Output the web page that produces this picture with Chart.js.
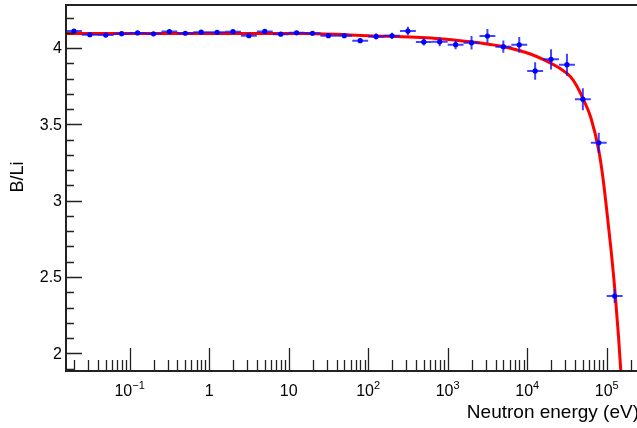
<!DOCTYPE html>
<html>
<head>
<meta charset="utf-8">
<script src="https://cdn.jsdelivr.net/npm/chart.js@4"></script>
<style>
html, body { margin: 0; padding: 0; background: #fff; overflow: hidden; }
#wrap { width: 680px; height: 428px; }
</style>
</head>
<body>
<div id="wrap"><canvas id="chart" width="680" height="428"></canvas></div>
<script>
// measured B/Li ratio, 5 log bins per decade
const binCenters = [0.01995, 0.03162, 0.05012, 0.07943, 0.1259, 0.1995, 0.3162, 0.5012, 0.7943,
    1.259, 1.995, 3.162, 5.012, 7.943, 12.59, 19.95, 31.62, 50.12, 79.43, 125.9, 199.5, 316.2,
    501.2, 794.3, 1259, 1995, 3162, 5012, 7943, 12589, 19953, 31623, 50119, 79433, 125893];
const binEdges = [0.01585, 0.02512, 0.03981, 0.0631, 0.1, 0.1585, 0.2512, 0.3981, 0.631, 1,
    1.585, 2.512, 3.981, 6.31, 10, 15.85, 25.12, 39.81, 63.1, 100, 158.5, 251.2, 398.1, 631,
    1000, 1585, 2512, 3981, 6310, 10000, 15850, 25120, 39810, 63100, 100000, 158500];
const ratio = [4.111, 4.087, 4.085, 4.094, 4.099, 4.093, 4.108, 4.097, 4.104, 4.103, 4.107,
    4.081, 4.109, 4.091, 4.100, 4.097, 4.081, 4.081, 4.048, 4.076, 4.080, 4.111, 4.040, 4.041,
    4.022, 4.035, 4.079, 4.009, 4.021, 3.850, 3.926, 3.891, 3.665, 3.379, 2.375];
const ratioErr = [0.008, 0.008, 0.008, 0.008, 0.008, 0.008, 0.008, 0.008, 0.008, 0.008, 0.008,
    0.008, 0.008, 0.009, 0.009, 0.009, 0.012, 0.012, 0.013, 0.02, 0.02, 0.028, 0.024, 0.03,
    0.03, 0.044, 0.046, 0.04, 0.052, 0.057, 0.066, 0.072, 0.072, 0.066, 0.045];

// fitted curve
const fitEnergy = [0.0158, 1, 15.85, 100, 708, 1905, 4571, 8128, 10965, 16600, 25700, 34670,
    41690, 50800, 63100, 79400, 89130, 100000, 112200, 125900, 141300, 158500];
const fitRatio = [4.095, 4.096, 4.095, 4.081, 4.063, 4.041, 4.013, 3.982, 3.961, 3.921, 3.867,
    3.815, 3.755, 3.664, 3.545, 3.33, 3.16, 2.94, 2.70, 2.43, 2.10, 1.70];

const xMajorTicks = [0.1, 1, 10, 100, 1000, 10000, 100000];
const xTickLabels = [['10', '\u22121'], ['1', ''], ['10', ''], ['10', '2'], ['10', '3'], ['10', '4'], ['10', '5']];
const yTicks = [2, 2.5, 3, 3.5, 4];
const yTickLabels = ['2', '2.5', '3', '3.5', '4'];

const FONT = '"Liberation Sans", Arial, Helvetica, sans-serif';
const AXIS = '#222';

const rootAxes = {
    id: 'rootAxes',
    beforeDatasetDraw(chart, args) {
        if (args.index !== 0) return;
        const { ctx, chartArea: a, scales: { x, y } } = chart;
        ctx.save();
        ctx.beginPath();
        ctx.rect(a.left, a.top, a.right - a.left, a.bottom - a.top);
        ctx.clip();
        ctx.strokeStyle = 'rgba(20,20,255,0.8)';
        ctx.lineWidth = 2;
        binCenters.forEach((e, i) => {
            const px = x.getPixelForValue(e);
            const py = y.getPixelForValue(ratio[i]);
            ctx.beginPath();
            ctx.moveTo(x.getPixelForValue(binEdges[i]), py);
            ctx.lineTo(x.getPixelForValue(binEdges[i + 1]), py);
            ctx.moveTo(px, y.getPixelForValue(ratio[i] - ratioErr[i]));
            ctx.lineTo(px, y.getPixelForValue(ratio[i] + ratioErr[i]));
            ctx.stroke();
        });
        ctx.restore();
    },
    afterDraw(chart) {
        const { ctx, chartArea: a, scales: { x, y } } = chart;
        ctx.save();
        // frame
        ctx.strokeStyle = AXIS;
        ctx.lineWidth = 2;
        ctx.strokeRect(a.left, a.top, a.right - a.left, a.bottom - a.top);

        // ticks, drawn inside like ROOT
        ctx.lineWidth = 1.3;
        ctx.beginPath();
        for (let d = -2; d <= 5; d++) {
            for (let m = 1; m <= 9; m++) {
                const v = m * Math.pow(10, d);
                if (v < x.min || v > x.max) continue;
                const px = Math.round(x.getPixelForValue(v)) + 0.5;
                const len = m === 1 ? 23 : 11;
                ctx.moveTo(px, a.bottom);
                ctx.lineTo(px, a.bottom - len);
            }
        }
        for (let k = 19; k <= 42; k++) {
            const py = Math.round(y.getPixelForValue(k / 10)) + 0.5;
            const len = k % 5 === 0 ? 16 : 8;
            ctx.moveTo(a.left, py);
            ctx.lineTo(a.left + len, py);
        }
        ctx.stroke();

        // tick labels
        ctx.fillStyle = '#000';
        ctx.textBaseline = 'alphabetic';
        xMajorTicks.forEach((v, i) => {
            const [base, sup] = xTickLabels[i];
            ctx.font = '16px ' + FONT;
            const wb = ctx.measureText(base).width;
            ctx.font = '11px ' + FONT;
            const ws = sup ? ctx.measureText(sup).width : 0;
            const left = x.getPixelForValue(v) - (wb + ws) / 2;
            ctx.font = '16px ' + FONT;
            ctx.textAlign = 'left';
            ctx.fillText(base, left, 396);
            if (sup) {
                ctx.font = '11px ' + FONT;
                ctx.fillText(sup, left + wb, 389);
            }
        });
        ctx.font = '16px ' + FONT;
        ctx.textAlign = 'right';
        ctx.textBaseline = 'middle';
        yTicks.forEach((v, i) => {
            ctx.fillText(yTickLabels[i], 62, y.getPixelForValue(v) + 1);
        });

        // axis titles
        ctx.textBaseline = 'alphabetic';
        ctx.font = '19px ' + FONT;
        ctx.textAlign = 'right';
        ctx.fillText('Neutron energy (eV)', a.right - 2, 417.5);

        ctx.font = '18px ' + FONT;
        ctx.textAlign = 'center';
        ctx.translate(22.5, 177);
        ctx.rotate(-Math.PI / 2);
        ctx.fillText('B/Li', 0, 0);
        ctx.restore();
    }
};

new Chart(document.querySelector('#chart').getContext('2d'), {
    type: 'scatter',
    data: {
        datasets: [
            {
                label: 'B/Li',
                data: binCenters.map((e, i) => ({ x: e, y: ratio[i] })),
                backgroundColor: '#0000ff',
                borderColor: '#0000ff',
                pointRadius: 2.6,
                pointBorderWidth: 0,
                showLine: false
            },
            {
                label: 'fit',
                type: 'line',
                data: fitEnergy.map((e, i) => ({ x: e, y: fitRatio[i] })),
                borderColor: '#ff0000',
                borderWidth: 3,
                pointRadius: 0,
                fill: false,
                cubicInterpolationMode: 'monotone'
            }
        ]
    },
    options: {
        responsive: false,
        devicePixelRatio: 1,
        animation: false,
        layout: { padding: { left: 66, right: 39, top: 5, bottom: 57 } },
        plugins: { legend: { display: false }, tooltip: { enabled: false } },
        scales: {
            x: { type: 'logarithmic', min: 0.01585, max: 270000, display: false },
            y: { type: 'linear', min: 1.884, max: 4.282, display: false }
        }
    },
    plugins: [rootAxes]
});
</script>
</body>
</html>
